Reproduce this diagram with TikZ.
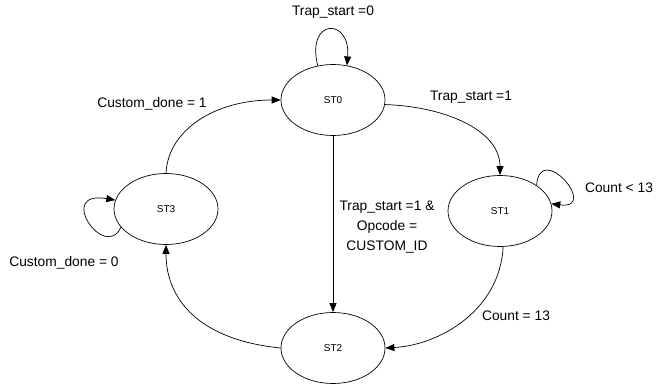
\documentclass[tikz,border=0pt]{standalone}
\usepackage{fontspec}
\setmainfont{Liberation Sans}
\usetikzlibrary{arrows.meta,shapes.geometric}
\begin{document}
\begin{tikzpicture}[x=1pt,y=-1pt,
  state/.style={draw,ellipse,line width=0.7pt,minimum width=104pt,minimum height=71pt,inner sep=0pt,font=\fontsize{10}{12}\selectfont},
  edge/.style={draw,line width=0.7pt,-{Triangle[length=9pt,width=7pt]}},
  lbl/.style={font=\fontsize{13.8}{20}\selectfont,inner sep=0pt,align=center}]
\useasboundingbox (0,0) rectangle (656,385);
\node[state] (s0) at (333,100) {ST0};
\node[state] (s1) at (500,211) {ST1};
\node[state] (s2) at (333,348) {ST2};
\node[state] (s3) at (166,209) {ST3};
% self loops
\draw[edge] (s0.114) .. controls +(-12,-48) and +(4,-48) .. (s0.68);
\draw[edge] (s1.35) .. controls (540,140) and (600,210) .. (s1.8);
\draw[edge] (s3.202) .. controls (105,262) and (55,190) .. (s3.170);
% transitions
\draw[edge] (s0.-5) .. controls +(60,2) and +(0,-45) .. (s1.north);
\draw[edge] (s0.south) -- (s2.north);
\draw[edge] (s1.-85) .. controls (500,310) and (440,345) .. (s2.east);
\draw[edge] (s2.west) .. controls (200,340) and (166,300) .. (s3.south);
\draw[edge] (s3.north) .. controls (168,130) and (215,100) .. (s0.west);
% labels
\node[lbl] (l0) at (333,12) {Trap\_start =0};
\node[lbl] (l1) at (471,97) {Trap\_start =1};
\node[lbl] (l2) at (387,227) {Trap\_start =1 \&\\Opcode =\\CUSTOM\_ID};
\node[lbl] (l3) at (619,188) {Count < 13};
\node[lbl] (l4) at (516,316) {Count = 13};
\node[lbl] (l5) at (152,104) {Custom\_done = 1};
\node[lbl] (l6) at (64,263) {Custom\_done = 0};
\end{tikzpicture}
\end{document}
